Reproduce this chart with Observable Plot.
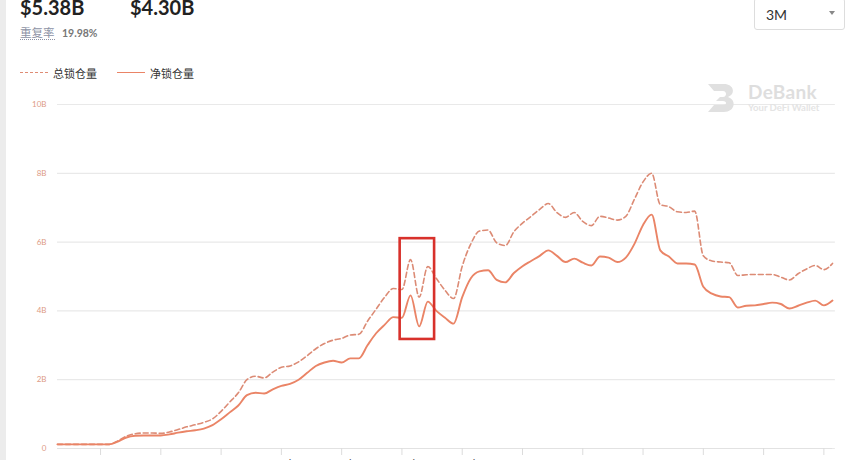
<!DOCTYPE html>
<html><head><meta charset="utf-8">
<script src="https://cdn.jsdelivr.net/npm/d3@7"></script>
<script src="https://cdn.jsdelivr.net/npm/@observablehq/plot@0.6"></script>
<style>
html,body{margin:0;padding:0;background:#fff;width:864px;height:460px;overflow:hidden;font-family:Lato,"Noto Sans CJK SC",sans-serif;}
#wrap{position:relative;width:864px;height:460px;}
#chart{position:absolute;left:0;top:0;}
.strip{position:absolute;left:0;top:0;width:6px;height:460px;background:#ececec;}
.big{position:absolute;top:-6px;font-size:20px;font-weight:700;color:#222;line-height:26px;}
.rate{position:absolute;left:20px;top:25px;font-size:11.5px;color:#8d93a5;border-bottom:1px dotted #8d93a5;line-height:14px;font-family:"Noto Sans CJK SC",sans-serif;}
.ratev{position:absolute;left:62px;top:26px;font-size:10.5px;color:#777;font-weight:700;line-height:14px;}
.leg{position:absolute;top:65px;font-size:11px;color:#333;line-height:16px;font-family:"Noto Sans CJK SC",sans-serif;}
.legline{position:absolute;top:72px;height:0;width:28px;}
.sel{position:absolute;left:754px;top:-2px;width:91px;height:32px;border:1px solid #ddd;border-radius:3px;box-sizing:border-box;}
.sel span{position:absolute;left:11px;top:7px;font-size:14px;color:#333;}
.sel i{position:absolute;right:9px;top:12px;width:0;height:0;border-left:3.5px solid transparent;border-right:3.5px solid transparent;border-top:4px solid #888;}
.wm{position:absolute;left:706px;top:82px;}
.wm1{position:absolute;left:748px;top:82px;font-size:19px;font-weight:700;color:#dedede;letter-spacing:0.3px;line-height:19px;}
.wm2{position:absolute;left:748px;top:103px;font-size:9.5px;font-weight:700;color:#e4e4e4;line-height:10px;}
</style></head>
<body><div id="wrap">
<div id="chart"></div>
<div class="strip"></div>
<div class="big" style="left:20px">$5.38B</div>
<div class="big" style="left:130px">$4.30B</div>
<div class="rate">重复率</div>
<div class="ratev">19.98%</div>
<div class="legline" style="left:20px;border-top:1.5px dashed #df8c74"></div>
<div class="leg" style="left:53px">总锁仓量</div>
<div class="legline" style="left:117px;border-top:1.8px solid #ea8466"></div>
<div class="leg" style="left:150px">净锁仓量</div>
<div class="sel"><span>3M</span><i></i></div>
<svg class="wm" width="32" height="32" viewBox="0 0 32 32"><path d="M2 2 H18 C28 2 30 12 22 15 C31 18 29 30 18 30 H2 L8 23 H17 C21 23 21 19 17 19 H10 L14 15 H17 C21 15 21 9 17 9 H8 Z" fill="#e0e0e0"/></svg>
<div class="wm1">DeBank</div>
<div class="wm2">Your DeFi Wallet</div>
</div>
<script>
const startDate = "2021-01-07";
const netLocked = [0.12,0.12,0.12,0.12,0.12,0.12,0.12,0.2,0.32,0.37,
0.38,0.38,0.38,0.41,0.46,0.5,0.53,0.58,0.68,0.85,
1.05,1.25,1.55,1.62,1.6,1.72,1.82,1.88,2.0,2.2,
2.4,2.5,2.55,2.5,2.62,2.62,3.0,3.35,3.6,3.82,
3.8,4.45,3.55,4.27,4.0,3.8,3.63,4.4,4.95,5.15,
5.18,4.9,4.83,5.1,5.3,5.45,5.6,5.76,5.6,5.42,
5.52,5.4,5.32,5.58,5.55,5.42,5.55,5.95,6.5,6.8,
5.76,5.58,5.38,5.38,5.35,4.7,4.5,4.42,4.4,4.1,
4.15,4.16,4.2,4.24,4.2,4.07,4.15,4.24,4.3,4.16,4.3];
const totalLocked = [0.12,0.12,0.12,0.12,0.12,0.12,0.12,0.22,0.36,0.43,
0.45,0.45,0.44,0.48,0.55,0.63,0.69,0.76,0.86,1.08,
1.35,1.62,2.0,2.1,2.05,2.22,2.36,2.4,2.52,2.7,
2.9,3.05,3.15,3.2,3.3,3.32,3.7,4.05,4.4,4.65,
4.62,5.49,4.4,5.29,4.94,4.6,4.36,5.3,5.95,6.32,
6.35,5.98,5.9,6.3,6.55,6.75,6.95,7.12,6.86,6.72,
6.86,6.6,6.48,6.75,6.7,6.64,6.75,7.25,7.75,8.0,
7.09,7.03,6.88,6.86,6.9,5.6,5.45,5.42,5.4,5.03,
5.05,5.06,5.06,5.06,4.98,4.9,5.08,5.22,5.32,5.2,5.38];
const yTicks = [0,2,4,6,8,10];
const yTickLabels = ["0","2B","4B","6B","8B","10B"];
const xTicks = ["2021-01-12","2021-01-19","2021-01-26","2021-02-02","2021-02-09","2021-02-16","2021-02-23","2021-03-02","2021-03-09","2021-03-16","2021-03-23","2021-03-30","2021-04-06"];
const highlight = [{x1:"2021-02-15T19:00",x2:"2021-02-19T19:00",y1:3.17,y2:6.1}];

const t0 = new Date(startDate);
const dates = netLocked.map((_, i) => d3.utcDay.offset(t0, i));
const rows = dates.map((d, i) => ({date: d, net: netLocked[i], total: totalLocked[i]}));
const tickDates = xTicks.map(s => new Date(s));
const hl = highlight.map(h => ({x1: new Date(h.x1), x2: new Date(h.x2), y1: h.y1, y2: h.y2}));
const fmtX = d3.utcFormat("%-d %b");

const chart = Plot.plot({
  width: 864,
  height: 478,
  marginTop: 104,
  marginBottom: 30,
  marginLeft: 57,
  marginRight: 32,
  style: {fontFamily: "Lato, sans-serif", background: "transparent"},
  x: {type: "utc", domain: [dates[0], dates[dates.length-1]]},
  y: {domain: [0, 10]},
  marks: [
    Plot.gridY(yTicks, {stroke: "#e9e9e9", strokeOpacity: 1, strokeWidth: 1.2, x1: dates[0], x2: d3.utcHour.offset(dates[dates.length-1], 8)}),
    Plot.axisY(yTicks, {tickSize: 0, tickPadding: 11, fontSize: 8, fill: "#dd9a85", tickFormat: (d, i) => yTickLabels[i]}),
    Plot.ruleY([0], {stroke: "#e2e2e2", strokeWidth: 1.2}),
    Plot.axisX(tickDates, {tickSize: 7, stroke: "#dcdcdc", tickPadding: 5, fontSize: 11, fill: "#555", tickFormat: fmtX}),
    Plot.line(rows, {x: "date", y: "total", stroke: "#dc8b75", strokeWidth: 1.6, strokeDasharray: "5,3", curve: "monotone-x"}),
    Plot.line(rows, {x: "date", y: "net", stroke: "#ea8466", strokeWidth: 1.9, curve: "monotone-x"}),
    Plot.rect(hl, {x1: "x1", x2: "x2", y1: "y1", y2: "y2", fill: "none", stroke: "#d8312b", strokeWidth: 2.6})
  ]
});
document.getElementById("chart").appendChild(chart);
</script>
</body></html>
